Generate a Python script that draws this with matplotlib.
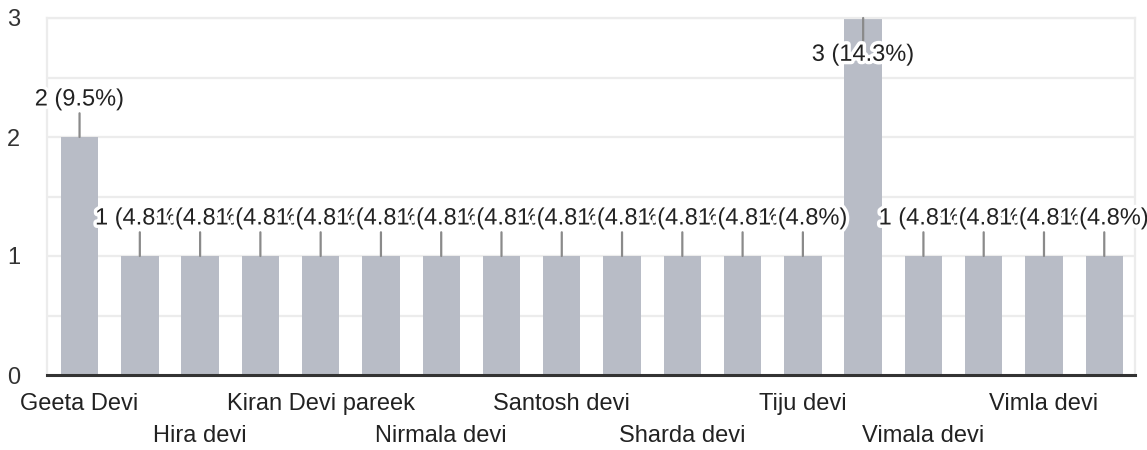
import matplotlib.pyplot as plt
import matplotlib.patheffects as pe

plt.rcParams['font.family'] = ['Liberation Sans', 'DejaVu Sans']

# names only readable for every other bar
names = ["Geeta Devi", "", "Hira devi", "", "Kiran Devi pareek", "",
         "Nirmala devi", "", "Santosh devi", "", "Sharda devi", "",
         "Tiju devi", "", "Vimala devi", "", "Vimla devi", ""]
counts = [2, 1, 1, 1, 1, 1, 1, 1, 1, 1, 1, 1, 1, 3, 1, 1, 1, 1]
y_ticks = [0, 1, 2, 3]

total = sum(counts)
x = list(range(len(counts)))
fs = 17

fig = plt.figure(figsize=(11.47, 4.5), dpi=100)
ax = fig.add_axes([47 / 1147, 75 / 450, 1088 / 1147, 357 / 450])

ax.bar(x, counts, width=0.62, color='#b8bcc6', zorder=2)
ax.set_xlim(-0.54, 17.51)
ax.set_ylim(0, 3)

# grid every half step
for g in [0.5, 1, 1.5, 2, 2.5, 3]:
    ax.axhline(g, color='#ececec', lw=1.6, zorder=1)

ax.set_yticks(y_ticks)
ax.set_yticklabels([str(t) for t in y_ticks], fontsize=fs, color='#333333')
ax.tick_params(axis='y', length=0, pad=24)
for lab in ax.get_yticklabels():
    lab.set_horizontalalignment('center')

ax.set_xticks(x)
ax.set_xticklabels(names, fontsize=fs, color='#222222')
ax.tick_params(axis='x', length=0)
shown = [i for i, n in enumerate(names) if n]
for k, i in enumerate(shown):
    ax.xaxis.get_major_ticks()[i].set_pad(13 if k % 2 == 0 else 36)

for s in ['left', 'right', 'top']:
    ax.spines[s].set_color('#ececec')
    ax.spines[s].set_linewidth(1.6)
ax.spines['bottom'].set_color('#333333')
ax.spines['bottom'].set_linewidth(2.2)
ax.spines['bottom'].set_zorder(5)

ymax = max(counts)
for i, v in enumerate(counts):
    lab = f"{v} ({v / total * 100:.1f}%)"
    off = -26.5 if v == ymax else 27
    t = ax.annotate(lab, xy=(i, v), xytext=(0, off), textcoords='offset points',
                    ha='center', va='center', fontsize=fs, color='#222222',
                    annotation_clip=False, zorder=4,
                    arrowprops=dict(arrowstyle='-', color='#8a8a8a', lw=1.6,
                                    shrinkA=0, shrinkB=0))
    t.set_path_effects([pe.withStroke(linewidth=5, foreground='white')])

fig.savefig('out.png', dpi=100)
